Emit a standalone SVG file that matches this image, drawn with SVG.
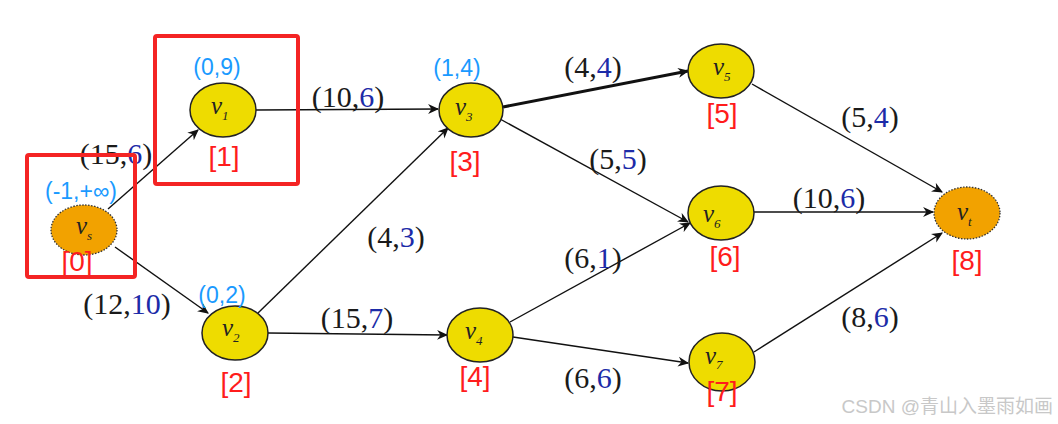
<svg xmlns="http://www.w3.org/2000/svg" width="1058" height="424" viewBox="0 0 1058 424">
<style>
.n{fill:#EEDC00;stroke:#222;stroke-width:1.5}
.s{fill:#F2A200;stroke:#333;stroke-width:1.3;stroke-dasharray:1.5 1.5}
.v{font-family:"Liberation Serif",serif;font-style:italic;font-size:25px;fill:#222}
.sub{font-size:13px}
.idx{font-family:"Liberation Sans",sans-serif;font-size:28px;fill:#FF1C1C;text-anchor:middle}
.lab{font-family:"Liberation Sans",sans-serif;font-size:23px;fill:#1A9AFF;text-anchor:middle}
.e{font-family:"Liberation Serif",serif;font-size:30px;fill:#1a1a1a;text-anchor:middle}
.b{fill:#1C2BA8}
.c{stroke:#111;stroke-width:1.4;fill:none;marker-end:url(#ah)}
.box{fill:none;stroke:#F42424;stroke-width:4}
</style>
<defs>
<marker id="ah" viewBox="0 0 10 10" refX="9" refY="5" markerWidth="11" markerHeight="11" markerUnits="userSpaceOnUse" orient="auto">
<path d="M0,0.5 L10,5 L0,9.5 L3,5 Z" fill="#111"/>
</marker>
</defs>
<rect width="1058" height="424" fill="#fff"/>
<g id="connectors">
<line class="c" x1="108" y1="209" x2="198" y2="130"/>
<line class="c" x1="115" y1="247" x2="208" y2="313"/>
<line class="c" x1="256" y1="110" x2="438" y2="109"/>
<line class="c" x1="258" y1="313" x2="448" y2="128"/>
<line class="c" x1="268" y1="333" x2="447" y2="335"/>
<line class="c" x1="503" y1="107" x2="688" y2="71" style="stroke-width:3"/>
<line class="c" x1="500" y1="119" x2="688" y2="222"/>
<line class="c" x1="510" y1="322" x2="690" y2="223"/>
<line class="c" x1="513" y1="337" x2="688" y2="363"/>
<line class="c" x1="752" y1="84" x2="942" y2="192"/>
<line class="c" x1="754" y1="212" x2="933" y2="212"/>
<line class="c" x1="754" y1="352" x2="942" y2="233"/>
<text class="e" x="116" y="164">(15,<tspan class="b">6</tspan>)</text>
<text class="e" x="127" y="314">(12,<tspan class="b">10</tspan>)</text>
<text class="e" x="348" y="107">(10,<tspan class="b">6</tspan>)</text>
<text class="e" x="396" y="247">(4,<tspan class="b">3</tspan>)</text>
<text class="e" x="357" y="328">(15,<tspan class="b">7</tspan>)</text>
<text class="e" x="593" y="77">(4,<tspan class="b">4</tspan>)</text>
<text class="e" x="618" y="169">(5,<tspan class="b">5</tspan>)</text>
<text class="e" x="593" y="268">(6,<tspan class="b">1</tspan>)</text>
<text class="e" x="593" y="388">(6,<tspan class="b">6</tspan>)</text>
<text class="e" x="870" y="127">(5,<tspan class="b">4</tspan>)</text>
<text class="e" x="829" y="208">(10,<tspan class="b">6</tspan>)</text>
<text class="e" x="870" y="327">(8,<tspan class="b">6</tspan>)</text>
</g>
<g id="vs">
<ellipse class="s" cx="84" cy="230" rx="33" ry="25"/>
<text class="v" x="76" y="234">v<tspan class="sub" dy="6">s</tspan></text>
<text class="lab" x="81" y="199">(-1,+∞)</text>
<text class="idx" x="77" y="271">[0]</text>
</g>
<g id="v1">
<ellipse class="n" cx="223" cy="110" rx="33" ry="27"/>
<text class="v" x="211" y="114">v<tspan class="sub" dy="6">1</tspan></text>
<text class="lab" x="217" y="75">(0,9)</text>
<text class="idx" x="224" y="166">[1]</text>
</g>
<g id="v2">
<ellipse class="n" cx="235" cy="333" rx="33" ry="27"/>
<text class="v" x="222" y="336">v<tspan class="sub" dy="6">2</tspan></text>
<text class="lab" x="222" y="303">(0,2)</text>
<text class="idx" x="236" y="392">[2]</text>
</g>
<g id="v3">
<ellipse class="n" cx="471" cy="110" rx="32" ry="27"/>
<text class="v" x="455" y="115">v<tspan class="sub" dy="6">3</tspan></text>
<text class="lab" x="457" y="76">(1,4)</text>
<text class="idx" x="465" y="171">[3]</text>
</g>
<g id="v4">
<ellipse class="n" cx="480" cy="335" rx="33" ry="27"/>
<text class="v" x="465" y="339">v<tspan class="sub" dy="6">4</tspan></text>
<text class="idx" x="475" y="386">[4]</text>
</g>
<g id="v5">
<ellipse class="n" cx="721" cy="71" rx="33" ry="27"/>
<text class="v" x="713" y="75">v<tspan class="sub" dy="6">5</tspan></text>
<text class="idx" x="722" y="123">[5]</text>
</g>
<g id="v6">
<ellipse class="n" cx="721" cy="213" rx="33" ry="27"/>
<text class="v" x="703" y="222">v<tspan class="sub" dy="6">6</tspan></text>
<text class="idx" x="725" y="266">[6]</text>
</g>
<g id="v7">
<ellipse class="n" cx="722" cy="362" rx="33" ry="29"/>
<text class="v" x="705" y="364">v<tspan class="sub" dy="5">7</tspan></text>
<text class="idx" x="722" y="401">[7]</text>
</g>
<g id="vt">
<ellipse class="s" cx="967" cy="213" rx="33" ry="26"/>
<text class="v" x="957" y="220">v<tspan class="sub" dy="6">t</tspan></text>
<text class="idx" x="967" y="270">[8]</text>
</g>
<g id="highlights">
<rect class="box" x="155" y="36" width="143" height="148" rx="2"/>
<rect class="box" x="27" y="155" width="108" height="122" rx="2"/>
</g>
<text x="1053" y="413" text-anchor="end" font-family="Liberation Sans, Noto Sans CJK SC, sans-serif" font-size="19" fill="#c8c8c8">CSDN @青山入墨雨如画</text>
</svg>
